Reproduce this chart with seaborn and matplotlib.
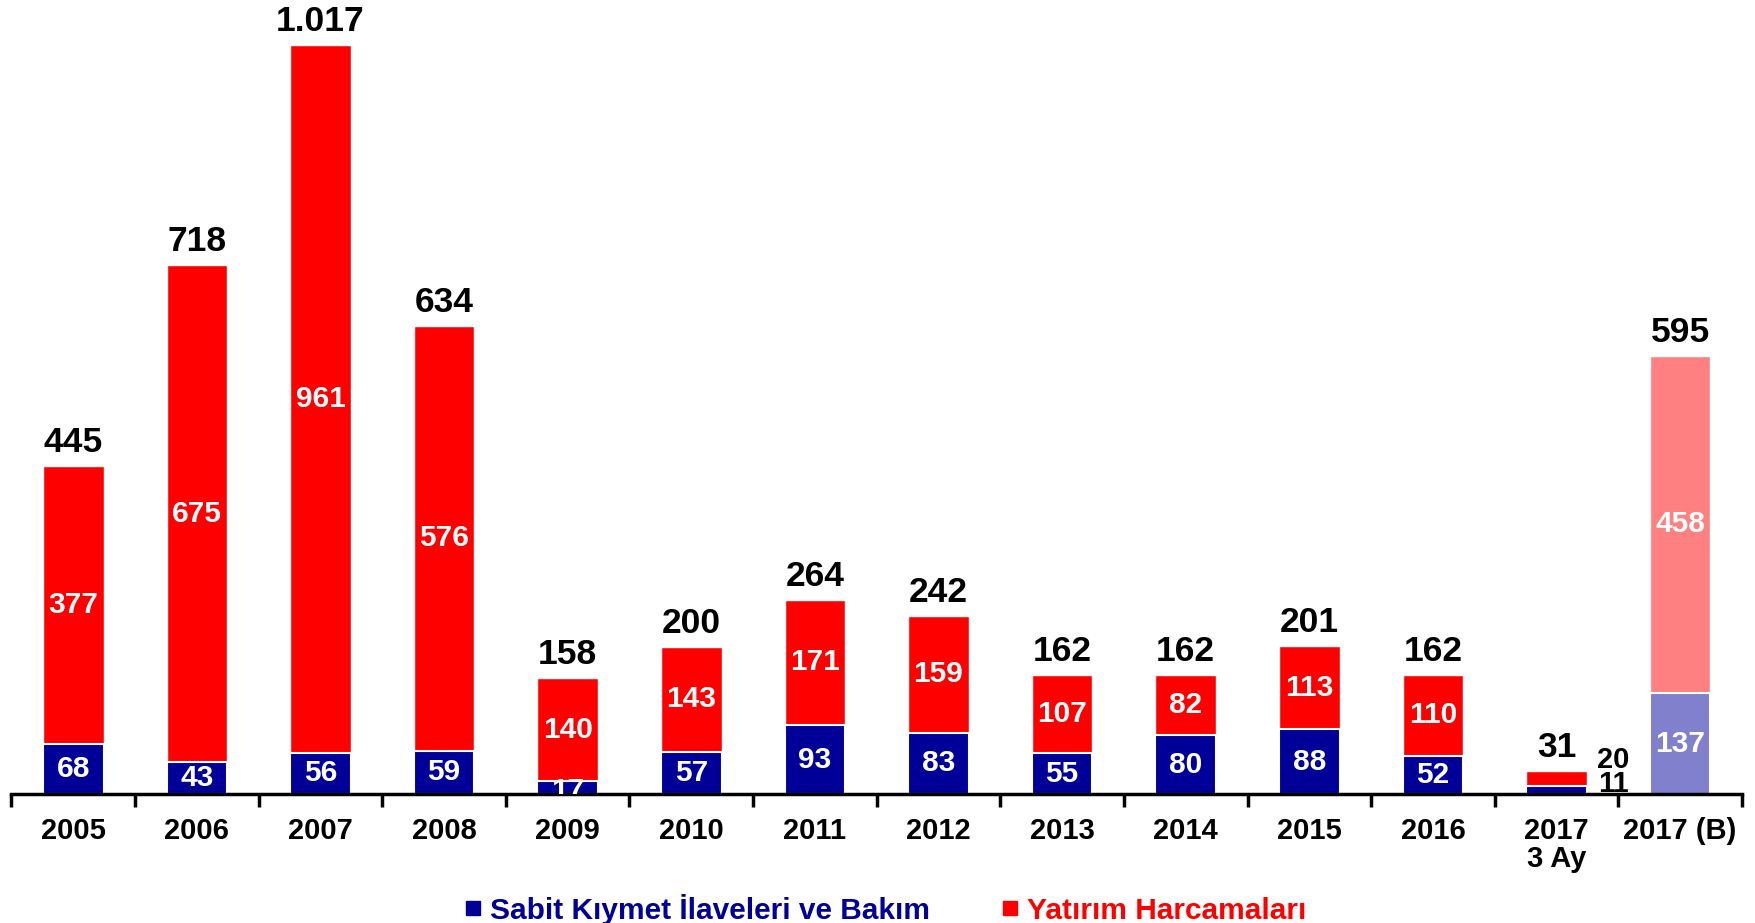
import matplotlib
matplotlib.use("Agg")
import matplotlib.pyplot as plt
from matplotlib.lines import Line2D
import seaborn as sns
import numpy as np

# Yearly figures (million TL)
years = ["2005", "2006", "2007", "2008", "2009", "2010", "2011", "2012",
         "2013", "2014", "2015", "2016", "2017\n3 Ay", "2017 (B)"]
sabit_kiymet = [68, 43, 56, 59, 17, 57, 93, 83, 55, 80, 88, 52, 11, 137]
yatirim = [377, 675, 961, 576, 140, 143, 171, 159, 107, 82, 113, 110, 20, 458]
total_labels = ["445", "718", "1.017", "634", "158", "200", "264", "242",
                "162", "162", "201", "162", "31", "595"]

NAVY, RED = "#000099", "#FF0000"
NAVY_LIGHT, RED_LIGHT = "#8080CC", "#FF8080"

sns.set_theme(style="white")
plt.rcParams["font.family"] = ["Liberation Sans", "DejaVu Sans"]
plt.rcParams["font.weight"] = "bold"

fig = plt.figure(figsize=(17.56, 9.23), dpi=100)
ax = fig.add_axes([0.0065, 0.1398, 0.9855, 0.8602])

n = len(years)
blue_cols = [NAVY] * (n - 1) + [NAVY_LIGHT]
red_cols = [RED] * (n - 1) + [RED_LIGHT]
totals = [b + r for b, r in zip(sabit_kiymet, yatirim)]

# full stack in red, then the lower segment drawn over it
sns.barplot(x=years, y=totals, hue=years, palette=red_cols, legend=False,
            width=0.49, saturation=1, ax=ax, edgecolor="white", linewidth=1)
sns.barplot(x=years, y=sabit_kiymet, hue=years, palette=blue_cols, legend=False,
            width=0.49, saturation=1, ax=ax, edgecolor="white", linewidth=1.5)

ax.set_xlim(-0.5, n - 0.5)
ax.set_ylim(0, 1078)

for i in range(n):
    b, r, t = sabit_kiymet[i], yatirim[i], totals[i]
    ax.annotate(total_labels[i], (i, t), xytext=(0, 5), textcoords="offset points",
                ha="center", va="bottom", fontsize=25.5, fontweight="bold", color="black")
    if i == n - 2:
        ax.annotate(str(r), (i + 0.46, t), xytext=(0, 8), textcoords="offset points",
                    ha="center", va="center", fontsize=21, fontweight="bold", color="black",
                    annotation_clip=False)
        ax.annotate(str(b), (i + 0.46, b), xytext=(0, 1), textcoords="offset points",
                    ha="center", va="center", fontsize=21, fontweight="bold", color="black",
                    annotation_clip=False)
    else:
        ax.text(i, b + r / 2, str(r), ha="center", va="center", fontsize=21.5,
                fontweight="bold", color="white", clip_on=True)
        ax.text(i, b / 2 - (4 if b < 30 else 0), str(b), ha="center", va="center",
                fontsize=21.5, fontweight="bold", color="white", clip_on=True)

# axes styling
for side in ["left", "top", "right"]:
    ax.spines[side].set_visible(False)
ax.spines["bottom"].set_color("black")
ax.spines["bottom"].set_linewidth(2.5)
ax.set_yticks([])
ax.set_xlabel("")
ax.set_xticks(range(n))
ax.set_xticklabels(years, fontsize=21, fontweight="bold", color="black", linespacing=1.0)
ax.set_xticks(np.arange(-0.5, n, 1.0), minor=True)
ax.tick_params(axis="x", which="major", length=0, pad=16.5)
ax.tick_params(axis="x", which="minor", length=9, width=2.5, color="black", direction="out",
               bottom=True)

handles = [
    Line2D([], [], marker="s", linestyle="", color=NAVY, markersize=10),
    Line2D([], [], marker="s", linestyle="", color=RED, markersize=10),
]
leg = fig.legend(handles, ["Sabit Kıymet İlaveleri ve Bakım", "Yatırım Harcamaları"],
                 loc="center", bbox_to_anchor=(0.504, 0.015), ncol=2, frameon=False,
                 handlelength=0.6, handletextpad=0.25, columnspacing=2.4,
                 prop={"size": 21.5, "weight": "bold"})
for txt, c in zip(leg.get_texts(), [NAVY, RED]):
    txt.set_color(c)

fig.savefig("out.png", dpi=100)
